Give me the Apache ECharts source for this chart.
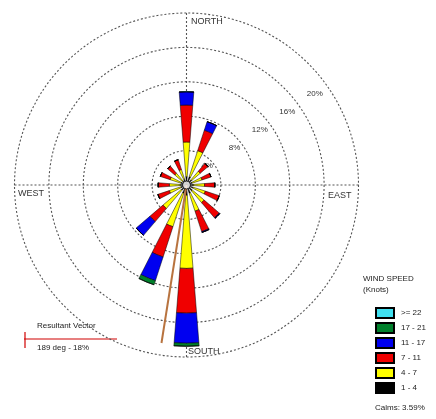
<!DOCTYPE html>
<html>
<head>
<meta charset="utf-8">
<script src="https://cdn.jsdelivr.net/npm/echarts@6/dist/echarts.min.js"></script>
<style>
  html, body { margin: 0; padding: 0; background: #fff; }
  #chart { width: 436px; height: 419px; }
</style>
</head>
<body>
<div id="chart"></div>
<script>
// 16 compass sectors, clockwise from north
const directions = ['N', 'NNE', 'NE', 'ENE', 'E', 'ESE', 'SE', 'SSE',
  'S', 'SSW', 'SW', 'WSW', 'W', 'WNW', 'NW', 'NNW'];

// frequency (%) per speed class (knots)
const speed1to4   = [1.0, 1.0, 0.8, 0.7, 0.8, 0.8, 0.9, 1.0, 1.2, 1.0, 0.8, 0.7, 0.7, 0.7, 0.6, 0.7];
const speed4to7   = [4.0, 3.2, 1.3, 1.2, 1.3, 1.5, 1.8, 2.2, 8.5, 4.1, 2.8, 1.4, 1.3, 1.3, 1.2, 1.2];
const speed7to11  = [4.3, 2.5, 1.2, 1.1, 1.2, 1.7, 2.3, 2.5, 5.2, 3.7, 2.0, 1.4, 1.3, 1.2, 1.1, 1.2];
const speed11to17 = [1.55, 1.05, 0, 0, 0, 0, 0.1, 0.1, 3.5, 2.9, 2.1, 0, 0, 0, 0, 0];
const speed17to21 = [0, 0, 0, 0, 0, 0, 0, 0, 0.35, 0.5, 0, 0, 0, 0, 0, 0];
const speed22up   = [0, 0, 0, 0, 0, 0, 0, 0, 0, 0, 0, 0, 0, 0, 0, 0];

const speedClasses = ['1 - 4', '4 - 7', '7 - 11', '11 - 17', '17 - 21', '>= 22'];
const speedColors = ['#000000', '#ffff00', '#f00000', '#0000f0', '#00802b', '#40e0f0'];

const radiusTicks = [0, 4, 8, 12, 16, 20];

const resultantDir = 189;   // degrees
const resultantLen = 18.6;  // drawn length on the % scale
const resultantLabel = '189 deg - 18%';
const calmLabel = 'Calms: 3.59%';

const chart = echarts.init(document.getElementById('chart'));

const font = 'Liberation Sans, Arial, sans-serif';
const center = [186.5, 185];
const radius = 172;
const dotted = {color: '#555', type: [2, 2], width: 1.1};

const barSeries = [speed1to4, speed4to7, speed7to11, speed11to17, speed17to21, speed22up].map((vals, i) => ({
  name: speedClasses[i],
  type: 'bar',
  coordinateSystem: 'polar',
  polarIndex: 0,
  stack: 'wind',
  barCategoryGap: '60%',
  data: vals,
  itemStyle: {color: speedColors[i], borderColor: '#000', borderWidth: 0.5},
  z: 3
}));

const option = {
  animation: false,
  backgroundColor: '#fff',
  polar: [
    {center: center, radius: radius},
    {center: center, radius: radius},
    {center: center, radius: radius}
  ],
  angleAxis: [
    {
      polarIndex: 0,
      type: 'category',
      data: directions,
      startAngle: 90 + 360 / directions.length / 2,
      clockwise: true,
      boundaryGap: true,
      axisLine: {show: false},
      axisTick: {show: false},
      axisLabel: {show: false},
      splitLine: {show: false}
    },
    {
      polarIndex: 1,
      type: 'value',
      min: 0,
      max: 360,
      interval: 90,
      startAngle: 90,
      clockwise: true,
      axisLine: {show: false},
      axisTick: {show: false},
      axisLabel: {show: false},
      splitLine: {show: true, lineStyle: dotted}
    },
    {
      polarIndex: 2,
      type: 'value',
      min: 0,
      max: 360,
      startAngle: 33,
      axisLine: {show: false},
      axisTick: {show: false},
      axisLabel: {show: false},
      splitLine: {show: false}
    }
  ],
  radiusAxis: [
    {
      polarIndex: 0,
      min: radiusTicks[0],
      max: radiusTicks[radiusTicks.length - 1],
      interval: 4,
      axisLine: {show: false},
      axisTick: {show: false},
      axisLabel: {show: false},
      splitLine: {show: true, lineStyle: dotted}
    },
    {
      polarIndex: 1,
      min: 0,
      max: 20,
      show: false
    },
    {
      // labels sit a little inside each ring
      polarIndex: 2,
      min: 0,
      max: 21,
      interval: 4,
      axisLine: {show: false},
      axisTick: {show: false},
      splitLine: {show: false},
      axisLabel: {
        show: true,
        fontSize: 8,
        fontFamily: font,
        color: '#333',
        margin: 2,
        formatter: v => (radiusTicks.indexOf(v) > 0 ? v + '%' : '')
      }
    }
  ],
  legend: {
    orient: 'vertical',
    left: 375,
    top: 307,
    padding: 0,
    itemWidth: 18,
    itemHeight: 10,
    itemGap: 3,
    icon: 'rect',
    data: speedClasses.slice().reverse(),
    textStyle: {fontSize: 8, lineHeight: 10, fontFamily: font, color: '#222', padding: [0, 0, 0, 2]}
  },
  series: barSeries.concat([
    {
      name: 'Resultant',
      type: 'line',
      coordinateSystem: 'polar',
      polarIndex: 1,
      symbol: 'none',
      data: [[0, resultantDir], [resultantLen, resultantDir]],
      lineStyle: {color: '#b8733f', width: 2},
      z: 5
    },
    {
      name: 'Calm',
      type: 'scatter',
      coordinateSystem: 'polar',
      polarIndex: 1,
      symbolSize: 8,
      data: [[0, 0]],
      itemStyle: {color: '#fff', borderColor: '#000', borderWidth: 1},
      z: 6
    }
  ]),
  graphic: [
    {type: 'text', left: 191, top: 17, style: {text: 'NORTH', fontSize: 9, fontFamily: font, fill: '#333'}},
    {type: 'text', left: 328, top: 191, style: {text: 'EAST', fontSize: 9, fontFamily: font, fill: '#333'}},
    {type: 'text', left: 18, top: 189, style: {text: 'WEST', fontSize: 9, fontFamily: font, fill: '#333'}},
    {type: 'text', left: 188, top: 347, style: {text: 'SOUTH', fontSize: 9, fontFamily: font, fill: '#333'}},
    {type: 'text', left: 363, top: 275, style: {text: 'WIND SPEED', fontSize: 8, fontFamily: font, fill: '#222'}},
    {type: 'text', left: 363, top: 286, style: {text: '(Knots)', fontSize: 8, fontFamily: font, fill: '#222'}},
    {type: 'text', left: 375, top: 404, style: {text: calmLabel, fontSize: 8, fontFamily: font, fill: '#222'}},
    {type: 'text', left: 37, top: 322, style: {text: 'Resultant Vector', fontSize: 8, fontFamily: font, fill: '#222'}},
    {type: 'text', left: 37, top: 344, style: {text: resultantLabel, fontSize: 8, fontFamily: font, fill: '#222'}},
    {type: 'line', shape: {x1: 24, y1: 339, x2: 117, y2: 339}, style: {stroke: '#d00000', lineWidth: 1.2}},
    {type: 'line', shape: {x1: 25, y1: 332, x2: 25, y2: 348}, style: {stroke: '#d00000', lineWidth: 1.2}}
  ]
};

chart.setOption(option);
</script>
</body>
</html>
